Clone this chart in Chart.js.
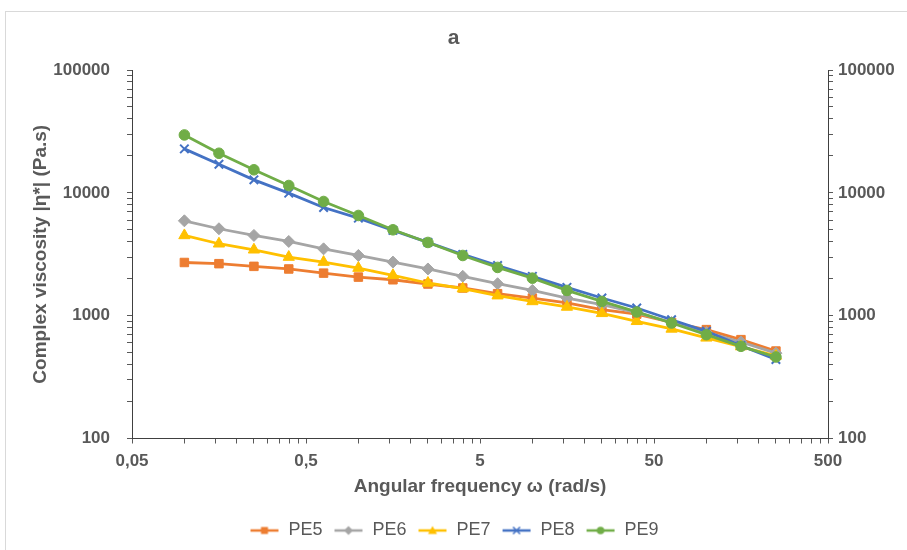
<!DOCTYPE html>
<html>
<head>
<meta charset="utf-8">
<script src="https://cdn.jsdelivr.net/npm/chart.js@4/dist/chart.umd.min.js"></script>
<style>
  html, body { margin: 0; padding: 0; background: #ffffff; overflow: hidden; }
  #frame { position: absolute; left: 5px; top: 11px; width: 1000px; height: 1000px; border: 1px solid #d9d9d9; box-sizing: border-box; }
  #wrap { position: absolute; left: 0; top: 0; width: 907px; height: 550px; }
</style>
</head>
<body>
<div id="frame"></div>
<div id="wrap"><canvas id="c" width="907" height="550"></canvas></div>
<script>
// ---- data ----
const freq = [0.1, 0.158, 0.251, 0.398, 0.631, 1, 1.58, 2.51, 3.98, 6.31, 10, 15.8, 25.1, 39.8, 63.1, 100, 158, 251];
const PE5 = [2710, 2650, 2520, 2400, 2220, 2060, 1960, 1810, 1680, 1510, 1390, 1270, 1120, 1030, 880, 770, 638, 515];
const PE6 = [5920, 5100, 4500, 4020, 3500, 3090, 2730, 2400, 2090, 1820, 1605, 1392, 1228, 1060, 880, 730, 610, 495];
const PE7 = [4500, 3850, 3440, 3000, 2730, 2440, 2130, 1845, 1660, 1455, 1306, 1177, 1045, 900, 780, 660, 560, 470];
const PE8 = [22800, 17100, 12760, 9940, 7600, 6220, 4950, 3950, 3150, 2560, 2090, 1700, 1392, 1155, 927, 746, 570, 440];
const PE9 = [29600, 21000, 15400, 11470, 8500, 6540, 5000, 3945, 3090, 2470, 2020, 1605, 1306, 1072, 871, 700, 563, 461];
const seriesNames = ['PE5', 'PE6', 'PE7', 'PE8', 'PE9'];
const xMajorTicks = [0.05, 0.5, 5, 50, 500];
const yMajorTicks = [100, 1000, 10000, 100000];
const xTickLabels = ['0,05', '0,5', '5', '50', '500'];
const yTickLabels = ['100', '1000', '10000', '100000'];

const colors = ['#ED7D31', '#A5A5A5', '#FFC000', '#4472C4', '#70AD47'];
const styles = ['rect', 'rectRot', 'triangle', 'crossRot', 'circle'];
const radii = [6, 6, 6.5, 6, 5.3];
const values = [PE5, PE6, PE7, PE8, PE9];

const FONT = '"Liberation Sans", Arial, sans-serif';
const TXT = '#595959';
const GLYPH_W = 31;

function withMinors(majors) {
  const out = [];
  for (let i = 0; i < majors.length; i++) {
    out.push({ value: majors[i], major: true });
    if (i < majors.length - 1) {
      for (let k = 2; k <= 9; k++) out.push({ value: majors[i] * k, major: false });
    }
  }
  return out;
}
function labelFor(v, majors, labels) {
  for (let i = 0; i < majors.length; i++) {
    if (Math.abs(v - majors[i]) / majors[i] < 1e-6) return labels[i];
  }
  return '';
}

// legend glyphs: line with marker
function legendGlyph(color, style) {
  const c = document.createElement('canvas');
  c.width = GLYPH_W; c.height = 14;
  const g = c.getContext('2d');
  g.strokeStyle = color; g.fillStyle = color; g.lineWidth = 2.5;
  g.beginPath(); g.moveTo(2, 7); g.lineTo(GLYPH_W - 1, 7); g.stroke();
  const cx = (GLYPH_W + 1) / 2, cy = 7;
  g.lineWidth = 1.5;
  g.beginPath();
  if (style === 'rect') { g.rect(cx - 3.5, cy - 3.5, 7, 7); g.fill(); }
  else if (style === 'rectRot') { g.moveTo(cx, cy - 4.5); g.lineTo(cx + 4.5, cy); g.lineTo(cx, cy + 4.5); g.lineTo(cx - 4.5, cy); g.closePath(); g.fill(); }
  else if (style === 'triangle') { g.moveTo(cx, cy - 4.5); g.lineTo(cx + 4.5, cy + 3.5); g.lineTo(cx - 4.5, cy + 3.5); g.closePath(); g.fill(); }
  else if (style === 'crossRot') { g.moveTo(cx - 3.5, cy - 3.5); g.lineTo(cx + 3.5, cy + 3.5); g.moveTo(cx + 3.5, cy - 3.5); g.lineTo(cx - 3.5, cy + 3.5); g.stroke(); }
  else { g.arc(cx, cy, 3.8, 0, Math.PI * 2); g.fill(); }
  return c;
}
const glyphs = colors.map((c, i) => legendGlyph(c, styles[i]));

const datasets = seriesNames.map((name, i) => ({
  label: name,
  data: freq.map((f, j) => ({ x: f, y: values[i][j] })),
  borderColor: colors[i],
  backgroundColor: colors[i],
  pointBackgroundColor: colors[i],
  pointBorderColor: colors[i],
  pointStyle: styles[i],
  pointRadius: radii[i],
  pointBorderWidth: styles[i] === 'crossRot' ? 2 : 1,
  borderWidth: 2.8,
  tension: 0,
  fill: false,
  order: 5 - i,
  yAxisID: 'y'
}));

function logAxis(position, majors, labels, pad, extra) {
  return Object.assign({
    type: 'logarithmic',
    position: position,
    min: majors[0],
    max: majors[majors.length - 1],
    afterBuildTicks: (scale) => { scale.ticks = withMinors(majors); },
    ticks: {
      autoSkip: false,
      maxRotation: 0,
      minRotation: 0,
      padding: pad,
      color: TXT,
      font: { family: FONT, size: 17, weight: 'bold' },
      callback: (v) => labelFor(v, majors, labels)
    },
    grid: {
      display: true,
      drawOnChartArea: false,
      drawTicks: true,
      tickLength: 5,
      tickColor: '#595959',
      tickWidth: 1
    },
    border: { display: true, color: '#404040', width: 1 }
  }, extra);
}

new Chart(document.getElementById('c'), {
  type: 'line',
  data: { datasets: datasets },
  options: {
    responsive: false,
    animation: false,
    devicePixelRatio: 1,
    layout: { padding: { left: 0, right: 0, top: 0, bottom: 0.5 } },
    scales: {
      x: logAxis('bottom', xMajorTicks, xTickLabels, 8, {
        title: { display: true, text: 'Angular frequency ω (rad/s)', color: TXT,
                 font: { family: FONT, size: 19, weight: 'bold' }, padding: { top: 4, bottom: 13 } },
        afterFit: (s) => { s.height = 73; }
      }),
      y: logAxis('left', yMajorTicks, yTickLabels, 17, {
        title: { display: true, text: 'Complex viscosity |η*| (Pa.s)', color: TXT,
                 font: { family: FONT, size: 19, weight: 'bold' }, padding: { top: 29, bottom: 0 } },
        afterFit: (s) => { s.width = 132; }
      }),
      y2: logAxis('right', yMajorTicks, yTickLabels, 5, {
        afterFit: (s) => { s.width = 79; }
      })
    },
    plugins: {
      title: {
        display: true, text: 'a', color: TXT,
        font: { family: FONT, size: 21, weight: 'bold' },
        padding: { top: 26, bottom: 18.8 }
      },
      legend: {
        display: true, position: 'bottom',
        labels: {
          usePointStyle: true,
          pointStyleWidth: GLYPH_W,
          boxHeight: 14,
          padding: 10,
          color: TXT,
          font: { family: FONT, size: 18 },
          sort: (a, b) => a.datasetIndex - b.datasetIndex,
          generateLabels: (chart) => {
            const items = Chart.defaults.plugins.legend.labels.generateLabels(chart);
            items.forEach((it) => { it.pointStyle = glyphs[it.datasetIndex]; });
            return items;
          }
        }
      },
      tooltip: { enabled: false }
    }
  }
});
</script>
</body>
</html>
